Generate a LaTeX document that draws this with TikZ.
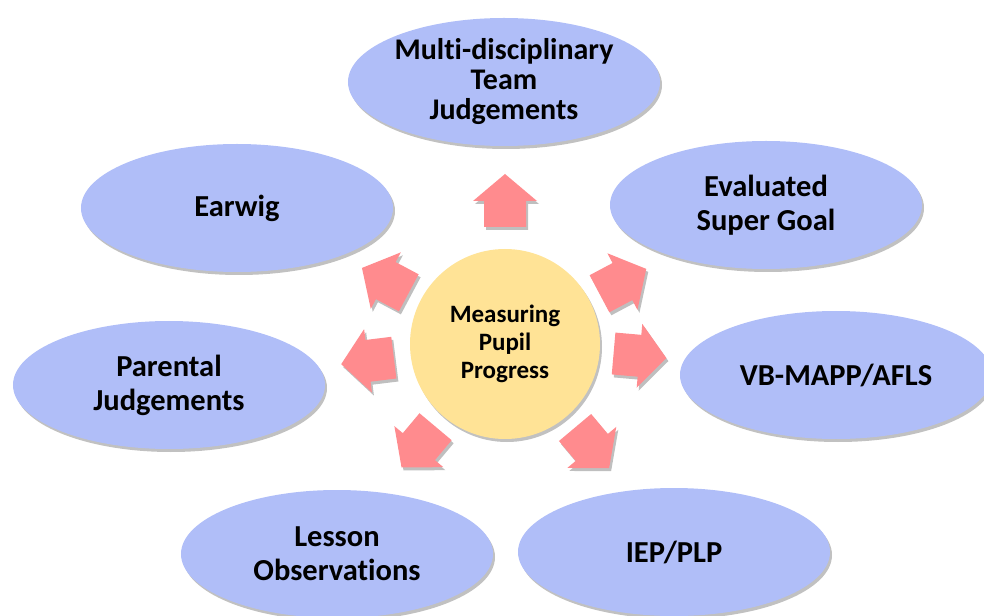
\documentclass[tikz,border=0pt]{standalone}
\usepackage{fontspec}
\setmainfont{Carlito}[Ligatures=NoCommon]
\usetikzlibrary{shapes.geometric, shadows, positioning}
\definecolor{bubbleBlue}{RGB}{176,190,248}
\definecolor{coreYellow}{RGB}{255,227,150}
\definecolor{arrowPink}{RGB}{255,139,142}

\begin{document}
\begin{tikzpicture}[x=1pt, y=1pt,
    bubble/.style={ellipse, fill=bubbleBlue, minimum width=312pt, minimum height=128pt,
        inner sep=0pt, align=center, font=\fontsize{30.5}{34}\selectfont\bfseries,
        drop shadow={shadow xshift=2pt, shadow yshift=-3pt, opacity=0.35, fill=black!70}},
    core/.style={circle, fill=coreYellow, minimum size=190pt, inner sep=0pt, align=center,
        font=\fontsize{25}{28}\selectfont\bfseries,
        drop shadow={shadow xshift=2pt, shadow yshift=-3pt, opacity=0.35, fill=black!70}},
    pics/pointer/.style={code={
        % shadow first, then the arrow itself
        \fill[black, opacity=0.25, shift={(2,-3)}, rotate=#1]
            (-26,-21) -- (0,-21) -- (0,-32) -- (27,0) -- (0,32) -- (0,21) -- (-26,21) -- cycle;
        \fill[arrowPink, rotate=#1]
            (-26,-21) -- (0,-21) -- (0,-32) -- (27,0) -- (0,32) -- (0,21) -- (-26,21) -- cycle;
    }}]
        \useasboundingbox (-505,-271) rectangle (479,344);

        % Mitte
        \coordinate (O) at (0,0);
        \node[core] (mpp) at (O) {Measuring\\Pupil\\Progress};

        % die sieben Ellipsen
        \node[bubble, font=\fontsize{30}{30}\selectfont\bfseries] (mdt) at (-1,262) {Multi-disciplinary\\Team\\Judgements};
        \node[bubble] (esg) at (261,139) {Evaluated\\Super Goal};
        \node[bubble] (vbm) at (331,-31) {VB-MAPP/AFLS};
        \node[bubble] (iep) at (169,-208) {IEP/PLP};
        \node[bubble] (les) at (-168,-210) {Lesson\\Observations};
        \node[bubble] (par) at (-336,-41) {Parental\\Judgements};
        \node[bubble] (ear) at (-268,136) {Earwig};

        % Pfeile nach aussen
        \pic (toMdt) at (90:143) {pointer=90};
        \pic (toEsg) at (28:133) {pointer=28};
        \pic (toVbm) at (-5:135) {pointer=-5};
        \pic (toIep) at (-50:135) {pointer=-50};
        \pic (toLes) at (230:134) {pointer=230};
        \pic (toPar) at (187:138) {pointer=187};
        \pic (toEar) at (152:135) {pointer=152};
    \end{tikzpicture}
\end{document}
